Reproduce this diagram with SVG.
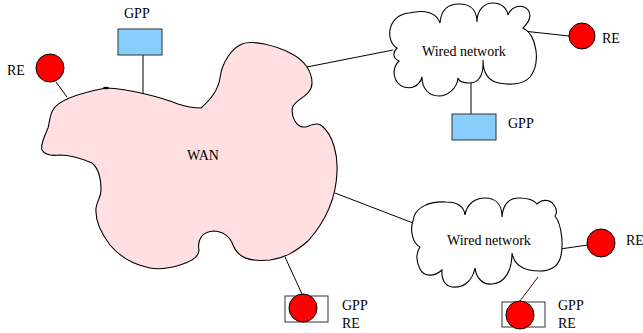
<svg xmlns="http://www.w3.org/2000/svg" width="643" height="333" viewBox="0 0 643 333">
  <style>
    text { font-family: "Liberation Serif", "DejaVu Serif", "Times New Roman", serif; font-size: 14px; fill: #000; }
    .wire { stroke: #000; stroke-width: 1; fill: none; }
    .re { fill: #ff0000; stroke: #000; stroke-width: 1; }
    .gpp { fill: #87cefa; stroke: #333; stroke-width: 1; }
    .box { fill: #fff; stroke: #333; stroke-width: 1; }
    .cloud { fill: #fff; stroke: #000; stroke-width: 1.1; }
  </style>

  <!-- connectors -->
  <g id="connectors">
    <line class="wire" x1="56" y1="82" x2="67" y2="97"/>
    <line class="wire" x1="143" y1="55" x2="143" y2="94"/>
    <line class="wire" x1="307" y1="67" x2="393" y2="50"/>
    <line class="wire" x1="523" y1="31" x2="569" y2="36"/>
    <line class="wire" x1="471" y1="82" x2="471" y2="114"/>
    <line class="wire" x1="335" y1="193" x2="413" y2="223"/>
    <line class="wire" x1="560" y1="249" x2="588" y2="245"/>
    <line x1="538" y1="277" x2="520" y2="301" stroke="#6b0000" stroke-width="1"/>
    <line class="wire" x1="285" y1="257" x2="302" y2="294"/>
  </g>

  <!-- wide area network blob -->
  <g id="wan">
    <path fill="#ffdfe1" stroke="#000" stroke-width="1.1" d="M 53,110
      C 58,100 80,93 106,88
      C 130,89 160,97 178,104
      C 190,108 198,108 201,108
      C 212,98 218,90 220,78
      C 222,62 232,48 242,44
      C 252,40 275,45 290,53
      C 305,60 312,72 312,83
      C 312,95 298,98 293,106
      C 290,115 296,128 305,127
      C 312,125 318,122 322,126
      C 333,135 338,155 337,172
      C 336,200 325,222 308,241
      C 295,252 285,258 270,260
      C 250,262 238,258 233,245
      C 230,236 222,231 213,231
      C 202,232 197,240 199,250
      C 199,258 190,262 180,265
      C 170,268 160,270 150,268
      C 135,265 120,257 110,245
      C 100,232 95,220 96,208
      C 97,200 101,198 101,190
      C 101,178 98,168 92,163
      C 85,160 72,155 60,155
      C 52,156 45,155 42,150
      C 40,145 45,135 48,128
      C 50,120 50,114 53,110 Z"/>
    <ellipse cx="106" cy="88" rx="3" ry="1.2" fill="#000"/>
    <text x="187" y="160">WAN</text>
  </g>

  <!-- upper wired network -->
  <g id="wired-upper" transform="translate(389,3)">
    <path class="cloud" d="M 8,45
      C -4,38 -2,12 20,10
      C 36,6 48,10 51,20
      C 52,6 60,1 70,1
      C 82,1 88,8 88,19
      C 88,6 96,0 104,0
      C 112,0 118,5 119,12
      C 122,4 130,2 135,4
      C 142,7 144,16 134,25
      C 148,32 152,60 141,74
      C 134,82 120,82 110,80
      C 100,78 94,70 94,57
      C 95,75 88,80 80,80
      C 74,80 70,78 69,75
      C 68,86 58,93 50,93
      C 40,93 33,86 33,74
      C 30,84 22,86 15,84
      C 4,80 2,66 10,58
      C 4,55 3,50 8,45 Z"/>
    <text x="33" y="53">Wired network</text>
  </g>

  <!-- lower wired network -->
  <g id="wired-lower" transform="translate(412,197)">
    <path class="cloud" d="M 1,24
      C 2,10 18,4 34,5
      C 46,5 52,10 53,18
      C 55,6 64,1 73,1
      C 84,1 90,8 90,20
      C 91,6 98,1 107,1
      C 116,1 122,3 125,7
      C 130,2 138,2 142,8
      C 145,12 145,16 143,19
      C 150,28 152,50 148,62
      C 144,72 135,74 128,74
      C 112,74 102,68 100,56
      C 100,72 94,86 80,87
      C 70,88 64,80 63,71
      C 60,86 50,91 40,90
      C 33,89 29,82 30,73
      C 22,80 12,80 8,72
      C 4,64 4,56 8,50
      C 0,46 -2,32 1,24 Z"/>
    <text x="35" y="48">Wired network</text>
  </g>

  <!-- devices on the WAN -->
  <g id="re-wan">
    <circle class="re" cx="50" cy="68" r="14"/>
    <text x="7" y="75">RE</text>
  </g>
  <g id="gpp-wan">
    <rect class="gpp" x="118" y="29" width="44" height="26"/>
    <text x="124" y="18">GPP</text>
  </g>
  <g id="gpp-re-wan">
    <rect class="box" x="285" y="296" width="43" height="26"/>
    <circle class="re" cx="303" cy="308" r="14"/>
    <text x="342" y="310">GPP</text>
    <text x="342" y="328">RE</text>
  </g>

  <!-- devices on the upper wired network -->
  <g id="re-upper">
    <circle class="re" cx="582" cy="36" r="13"/>
    <text x="602" y="43">RE</text>
  </g>
  <g id="gpp-upper">
    <rect class="gpp" x="452" y="114" width="44" height="26"/>
    <text x="508" y="128">GPP</text>
  </g>

  <!-- devices on the lower wired network -->
  <g id="re-lower">
    <circle class="re" cx="601" cy="243" r="14"/>
    <text x="626" y="245">RE</text>
  </g>
  <g id="gpp-re-lower">
    <rect class="box" x="502" y="302" width="43" height="25"/>
    <circle class="re" cx="520" cy="315" r="14"/>
    <text x="558" y="310">GPP</text>
    <text x="558" y="328">RE</text>
  </g>
</svg>
